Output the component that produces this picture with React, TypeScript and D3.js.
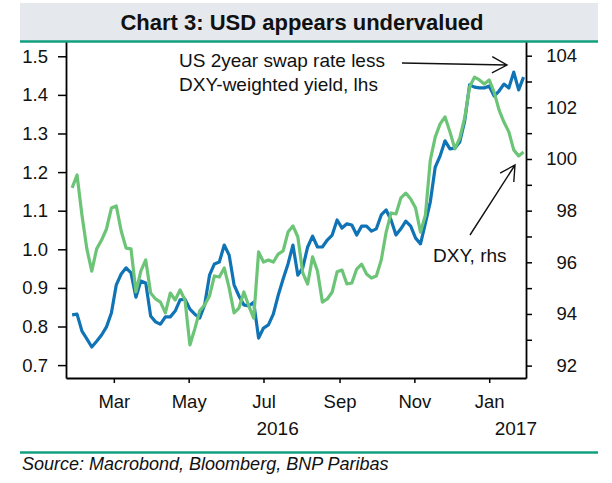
import React, { useEffect, useRef } from 'react';
import * as d3 from 'd3';

// sample dates (every 4 days), shared by both series
const dates = [
    '2016-01-27', '2016-01-31', '2016-02-04', '2016-02-08', '2016-02-12', '2016-02-16', '2016-02-20',
    '2016-02-24', '2016-02-28', '2016-03-03', '2016-03-07', '2016-03-11', '2016-03-15', '2016-03-19',
    '2016-03-23', '2016-03-27', '2016-03-31', '2016-04-04', '2016-04-08', '2016-04-12', '2016-04-16',
    '2016-04-20', '2016-04-24', '2016-04-28', '2016-05-02', '2016-05-06', '2016-05-10', '2016-05-14',
    '2016-05-18', '2016-05-22', '2016-05-26', '2016-05-30', '2016-06-03', '2016-06-07', '2016-06-11',
    '2016-06-15', '2016-06-19', '2016-06-23', '2016-06-27', '2016-07-01', '2016-07-05', '2016-07-09',
    '2016-07-13', '2016-07-17', '2016-07-21', '2016-07-25', '2016-07-29', '2016-08-02', '2016-08-06',
    '2016-08-10', '2016-08-14', '2016-08-18', '2016-08-22', '2016-08-26', '2016-08-30', '2016-09-03',
    '2016-09-07', '2016-09-11', '2016-09-15', '2016-09-19', '2016-09-23', '2016-09-27', '2016-10-01',
    '2016-10-05', '2016-10-09', '2016-10-13', '2016-10-17', '2016-10-21', '2016-10-25', '2016-10-29',
    '2016-11-02', '2016-11-06', '2016-11-10', '2016-11-14', '2016-11-18', '2016-11-22', '2016-11-26',
    '2016-11-30', '2016-12-04', '2016-12-08', '2016-12-12', '2016-12-16', '2016-12-20', '2016-12-24',
    '2016-12-28', '2017-01-01', '2017-01-05', '2017-01-09', '2017-01-13', '2017-01-17', '2017-01-21',
    '2017-01-25', '2017-01-29',
];

// US 2y swap rate less DXY-weighted yield (lhs)
const swapSpread = [
    0.830, 0.832, 0.788, 0.768, 0.747, 0.762, 0.778, 0.799, 0.835, 0.908,
    0.936, 0.952, 0.939, 0.876, 0.918, 0.913, 0.827, 0.812, 0.806, 0.825,
    0.825, 0.840, 0.869, 0.871, 0.845, 0.832, 0.822, 0.856, 0.933, 0.962,
    0.967, 1.011, 0.985, 0.908, 0.879, 0.856, 0.853, 0.863, 0.770, 0.796,
    0.804, 0.832, 0.881, 0.923, 0.962, 1.011, 0.933, 0.952, 1.006, 1.034,
    1.006, 1.006, 1.024, 1.037, 1.076, 1.055, 1.066, 1.063, 1.037, 1.060,
    1.060, 1.047, 1.053, 1.089, 1.102, 1.076, 1.037, 1.053, 1.073, 1.060,
    1.029, 1.014, 1.068, 1.123, 1.213, 1.242, 1.281, 1.260, 1.262, 1.278,
    1.332, 1.426, 1.420, 1.418, 1.418, 1.423, 1.397, 1.410, 1.428, 1.418,
    1.459, 1.413, 1.446,
];

// DXY (rhs)
const dxy = [
    98.88, 99.38, 97.83, 96.52, 95.66, 96.52, 96.86, 97.29, 98.10, 98.18,
    97.21, 96.55, 96.52, 94.85, 95.66, 96.09, 94.81, 94.58, 94.46, 94.04,
    94.81, 94.54, 94.93, 94.54, 92.80, 93.42, 94.12, 94.35, 94.70, 95.47,
    95.43, 95.78, 95.01, 94.04, 94.23, 94.85, 94.31, 93.84, 96.40, 96.01,
    96.09, 96.01, 96.32, 96.44, 97.17, 97.41, 96.98, 95.59, 95.16, 96.21,
    95.66, 94.46, 94.58, 94.85, 95.63, 95.70, 95.16, 95.20, 95.74, 95.93,
    95.55, 95.39, 95.47, 96.09, 97.17, 97.91, 97.87, 98.49, 98.68, 98.45,
    98.10, 97.17, 97.83, 99.96, 100.85, 101.36, 101.63, 101.05, 100.39, 100.81,
    101.59, 102.79, 103.17, 103.06, 102.90, 103.06, 102.59, 101.90, 101.43, 101.05,
    100.35, 100.12, 100.27,
];

const leftTicks = [0.7, 0.8, 0.9, 1.0, 1.1, 1.2, 1.3, 1.4, 1.5];
const rightTicks = [92, 93, 94, 95, 96, 97, 98, 99, 100, 101, 102, 103, 104];
const monthTicks = ['2016-03-01', '2016-05-01', '2016-07-01', '2016-09-01', '2016-11-01', '2017-01-01'];
const monthLabels = ['Mar', 'May', 'Jul', 'Sep', 'Nov', 'Jan'];
const yearLabels = ['2016', '2017'];

const BLUE = '#0f73b6';
const GREEN = '#6cc476';
const TEAL = '#12a07f';
const FONT = '"Liberation Sans", Arial, sans-serif';

const arrow = (g, x1, y1, x2, y2) => {
    const a = Math.atan2(y2 - y1, x2 - x1);
    const len = 17;
    const spread = 0.5;
    const p = d3.path();
    p.moveTo(x1, y1);
    p.lineTo(x2, y2);
    p.moveTo(x2 - len * Math.cos(a - spread), y2 - len * Math.sin(a - spread));
    p.lineTo(x2, y2);
    p.lineTo(x2 - len * Math.cos(a + spread), y2 - len * Math.sin(a + spread));
    g.append('path')
        .attr('d', p.toString())
        .attr('fill', 'none')
        .attr('stroke', '#111')
        .attr('stroke-width', 1.4);
};

export default function App() {
    const svgRef = useRef<SVGSVGElement>(null);

    useEffect(() => {
        const svg = d3.select(svgRef.current);
        svg.selectAll('*').remove();

        const parse = d3.timeParse('%Y-%m-%d');
        const xs = dates.map((d) => parse(d));

        const left = 66;
        const right = 526;
        const top = 42;
        const bottom = 378;

        const x = d3
            .scaleTime()
            .domain([parse('2016-01-22'), parse('2017-01-31')])
            .range([left, right]);
        const yL = d3.scaleLinear().domain([0.6666, 1.537]).range([bottom, top]);
        const yR = d3.scaleLinear().domain([91.52, 104.53]).range([bottom, top]);

        svg.append('rect').attr('width', 612).attr('height', 483).attr('fill', '#fff');

        // header band
        svg.append('rect')
            .attr('x', 20)
            .attr('y', 3)
            .attr('width', 578)
            .attr('height', 38)
            .attr('fill', '#e5e8ec');
        svg.append('line')
            .attr('x1', 20)
            .attr('x2', 598)
            .attr('y1', 41.5)
            .attr('y2', 41.5)
            .attr('stroke', TEAL)
            .attr('stroke-width', 2.6);
        svg.append('text')
            .attr('x', 302)
            .attr('y', 30)
            .attr('text-anchor', 'middle')
            .attr('font-family', FONT)
            .attr('font-weight', 'bold')
            .attr('font-size', 22)
            .attr('fill', '#111')
            .text('Chart 3: USD appears undervalued');

        // series
        const lineL = d3
            .line<number>()
            .x((d, i) => x(xs[i]))
            .y((d) => yL(d));
        const lineR = d3
            .line<number>()
            .x((d, i) => x(xs[i]))
            .y((d) => yR(d));

        svg.append('path')
            .datum(swapSpread)
            .attr('d', lineL)
            .attr('fill', 'none')
            .attr('stroke', BLUE)
            .attr('stroke-width', 3.2)
            .attr('stroke-linejoin', 'round');
        svg.append('path')
            .datum(dxy)
            .attr('d', lineR)
            .attr('fill', 'none')
            .attr('stroke', GREEN)
            .attr('stroke-width', 3.2)
            .attr('stroke-linejoin', 'round');

        // axes
        const styleAxis = (g) => {
            g.select('.domain').attr('stroke', '#000').attr('stroke-width', 1.8);
            g.selectAll('.tick line').attr('stroke', '#000').attr('stroke-width', 1.5);
            g.selectAll('text')
                .attr('font-family', FONT)
                .attr('font-size', 18.5)
                .attr('fill', '#111');
        };

        svg.append('g')
            .attr('transform', `translate(${left},0)`)
            .call(
                d3
                    .axisLeft(yL)
                    .tickValues(leftTicks)
                    .tickFormat(d3.format('.1f'))
                    .tickSize(8)
                    .tickSizeOuter(0)
                    .tickPadding(10)
            )
            .call(styleAxis);

        const gR = svg
            .append('g')
            .attr('transform', `translate(${right},0)`)
            .call(
                d3
                    .axisRight(yR)
                    .tickValues(rightTicks)
                    .tickFormat((d) => (d % 2 === 0 ? String(d) : ''))
                    .tickSize(6)
                    .tickSizeOuter(0)
            )
            .call(styleAxis);
        gR.selectAll('.tick text').attr('text-anchor', 'end').attr('x', 51);

        svg.append('g')
            .attr('transform', `translate(0,${bottom})`)
            .call(
                d3
                    .axisBottom(x)
                    .tickValues(monthTicks.map((d) => parse(d)))
                    .tickFormat((d, i) => monthLabels[i])
                    .tickSize(5)
                    .tickSizeOuter(0)
                    .tickPadding(12)
            )
            .call(styleAxis);

        // year labels
        const y2016 = (x(parse('2016-01-22')) + x(parse('2017-01-01'))) / 2;
        svg.append('text')
            .attr('x', y2016)
            .attr('y', 435)
            .attr('text-anchor', 'middle')
            .attr('font-family', FONT)
            .attr('font-size', 19)
            .attr('fill', '#111')
            .text(yearLabels[0]);
        svg.append('text')
            .attr('x', right + 11)
            .attr('y', 435)
            .attr('text-anchor', 'end')
            .attr('font-family', FONT)
            .attr('font-size', 19)
            .attr('fill', '#111')
            .text(yearLabels[1]);

        // annotations
        const note = svg
            .append('g')
            .attr('font-family', FONT)
            .attr('font-size', 19)
            .attr('fill', '#111');
        note.append('text').attr('x', 179).attr('y', 67).text('US 2year swap rate less');
        note.append('text').attr('x', 179).attr('y', 91).text('DXY-weighted yield, lhs');
        note.append('text').attr('x', 433).attr('y', 262).text('DXY, rhs');
        arrow(svg, 402, 63, 507, 65);
        arrow(svg, 470, 235, 515, 165);

        // footer
        svg.append('line')
            .attr('x1', 20)
            .attr('x2', 598)
            .attr('y1', 452.5)
            .attr('y2', 452.5)
            .attr('stroke', TEAL)
            .attr('stroke-width', 2.4);
        svg.append('text')
            .attr('x', 22)
            .attr('y', 470)
            .attr('font-family', FONT)
            .attr('font-style', 'italic')
            .attr('font-size', 18)
            .attr('fill', '#111')
            .text('Source: Macrobond, Bloomberg, BNP Paribas');
    }, []);

    return (
        <div style={{ position: 'absolute', left: 0, top: 0 }}>
            <svg ref={svgRef} width={612} height={483} style={{ display: 'block' }} />
        </div>
    );
}
